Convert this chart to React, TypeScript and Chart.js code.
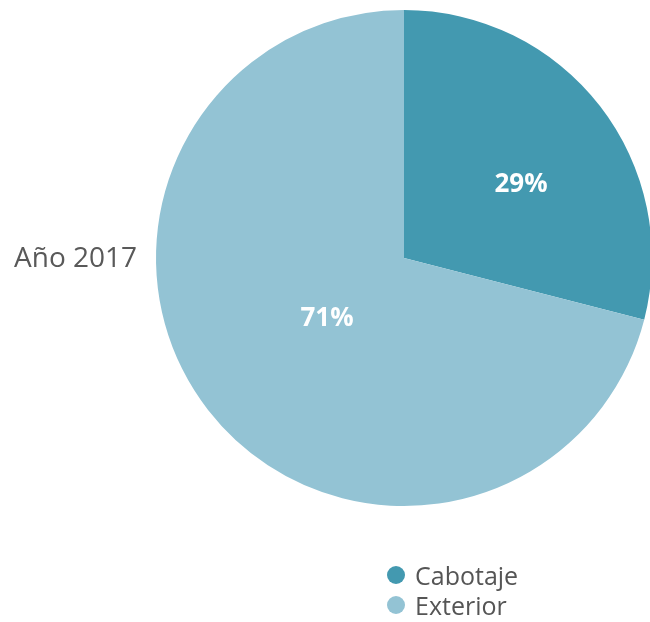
import React, { useEffect, useRef } from "react";
import { Chart, registerables } from "chart.js";

Chart.register(...registerables);

const categories = ["Cabotaje", "Exterior"];
const values = [29, 71];
const sliceColors = ["#4399b0", "#93c3d4"];
const seriesTitle = "Año 2017";

const FONT = "'Open Sans', 'Noto Sans', sans-serif";

export default function App() {
  const ref = useRef<HTMLCanvasElement | null>(null);

  useEffect(() => {
    if (!ref.current) return;
    const labelPlugin = {
      id: "sliceLabels",
      afterDatasetsDraw(chart: any) {
        const ctx = chart.ctx;
        const meta = chart.getDatasetMeta(0);
        const offsets = [
          [19, 3],
          [21, -15],
        ];
        const total = values.reduce((a, b) => a + b, 0);
        ctx.save();
        ctx.fillStyle = "#ffffff";
        ctx.font = `bold 26px ${FONT}`;
        ctx.textAlign = "center";
        ctx.textBaseline = "middle";
        meta.data.forEach((arc: any, i: number) => {
          const p = arc.tooltipPosition();
          const pct = Math.round((values[i] / total) * 100);
          ctx.fillText(pct + "%", p.x + offsets[i][0], p.y + offsets[i][1]);
        });
        ctx.restore();
      },
    };
    const titlePlugin = {
      id: "sideTitle",
      afterDraw(chart: any) {
        const ctx = chart.ctx;
        const area = chart.chartArea;
        ctx.save();
        ctx.fillStyle = "#595959";
        ctx.font = `28px ${FONT}`;
        ctx.textAlign = "left";
        ctx.textBaseline = "middle";
        ctx.fillText(seriesTitle, 14, (area.top + area.bottom) / 2 + 1);
        ctx.restore();
      },
    };
    const chart = new Chart(ref.current, {
      type: "pie",
      data: {
        labels: categories,
        datasets: [
          {
            data: values,
            backgroundColor: sliceColors,
            borderWidth: 0,
          },
        ],
      },
      options: {
        responsive: false,
        animation: false,
        layout: { padding: { left: 156, right: 8, top: 10, bottom: 116 } },
        plugins: {
          legend: { display: false },
          tooltip: { enabled: false },
        },
      },
      plugins: [labelPlugin, titlePlugin],
    });
    return () => chart.destroy();
  }, []);

  return (
    <div
      style={{
        position: "fixed",
        left: 0,
        top: 0,
        width: 650,
        height: 622,
        overflow: "hidden",
        background: "#ffffff",
      }}
    >
      <canvas
        ref={ref}
        width={660}
        height={622}
        style={{ position: "absolute", left: 0, top: 0, width: 660, height: 622 }}
      />
      <div
        style={{
          position: "absolute",
          left: 387,
          top: 560,
          fontFamily: FONT,
          fontSize: 25,
          color: "#555555",
          lineHeight: "30px",
        }}
      >
        {categories.map((c, i) => (
          <div key={c} style={{ display: "flex", alignItems: "center" }}>
            <span
              style={{
                display: "inline-block",
                width: 18,
                height: 18,
                borderRadius: 9,
                background: sliceColors[i],
                marginRight: 10,
              }}
            />
            <span>{c}</span>
          </div>
        ))}
      </div>
    </div>
  );
}
